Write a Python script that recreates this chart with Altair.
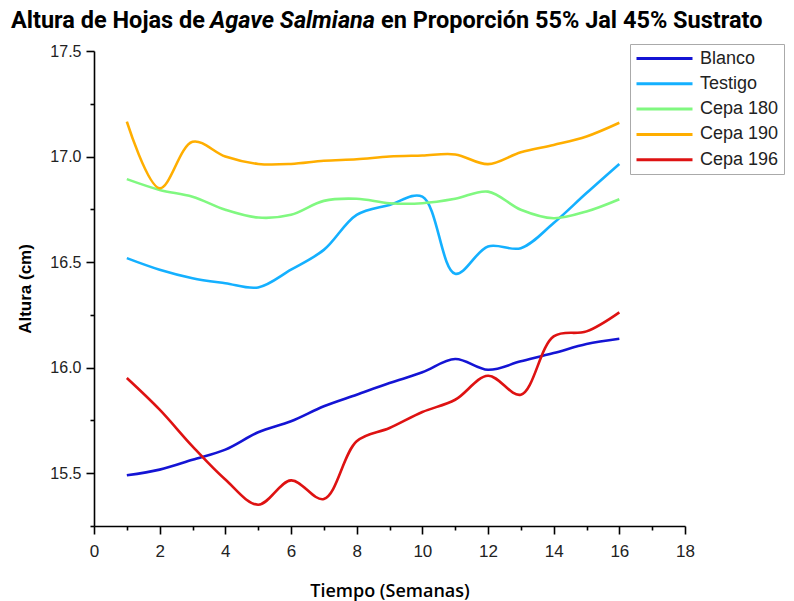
import altair as alt
import pandas as pd

weeks = list(range(1, 17))
series_names = ["Blanco", "Testigo", "Cepa 180", "Cepa 190", "Cepa 196"]
series_colors = ["#1414d4", "#14b0ff", "#80f880", "#ffae00", "#de1212"]

blanco = [15.49, 15.517, 15.564, 15.612, 15.694, 15.746, 15.817, 15.872,
          15.927, 15.978, 16.041, 15.99, 16.03, 16.069, 16.112, 16.137]
testigo = [16.519, 16.464, 16.424, 16.40, 16.38, 16.464, 16.558, 16.724,
           16.771, 16.81, 16.445, 16.574, 16.566, 16.685, 16.827, 16.965]
cepa180 = [16.893, 16.842, 16.81, 16.748, 16.711, 16.724, 16.79, 16.80,
           16.779, 16.779, 16.80, 16.834, 16.748, 16.708, 16.74, 16.798]
cepa190 = [17.165, 16.85, 17.07, 17.0, 16.965, 16.965, 16.98, 16.987,
           17.0, 17.005, 17.01, 16.964, 17.02, 17.055, 17.095, 17.16]
cepa196 = [15.951, 15.801, 15.627, 15.47, 15.351, 15.466, 15.378, 15.651,
           15.714, 15.79, 15.848, 15.962, 15.872, 16.148, 16.172, 16.262]

x_ticks = list(range(0, 19))
y_ticks = [15.25, 15.5, 15.75, 16.0, 16.25, 16.5, 16.75, 17.0, 17.25, 17.5]

title_parts = ["Altura de Hojas de", "Agave Salmiana", "en Proporción 55% Jal 45% Sustrato"]

rows = []
for name, vals in zip(series_names, [blanco, testigo, cepa180, cepa190, cepa196]):
    for w, v in zip(weeks, vals):
        rows.append({"Semana": w, "Altura": v, "Serie": name})
df = pd.DataFrame(rows)

W, H = 591, 475

lines = alt.Chart(df).mark_line(strokeWidth=2.6, interpolate="catmull-rom").encode(
    x=alt.X("Semana:Q",
            scale=alt.Scale(domain=[0, 18], nice=False),
            axis=alt.Axis(values=x_ticks, title="Tiempo (Semanas)",
                          labelExpr="datum.value % 2 == 0 ? datum.label : ''",
                          tickSize=alt.condition("datum.value % 2 == 0", alt.value(8), alt.value(4)),
                          grid=False, domainColor="black", tickColor="black",
                          domainWidth=1.6, tickWidth=1.6, labelFlush=False,
                          labelFont="Liberation Sans", labelFontSize=17, labelColor="#222",
                          labelPadding=9,
                          titleFont="Open Sans", titleFontSize=18, titleFontWeight=600,
                          titleColor="black", titlePadding=23)),
    y=alt.Y("Altura:Q",
            scale=alt.Scale(domain=[15.25, 17.5], nice=False, zero=False),
            axis=alt.Axis(values=y_ticks, title="Altura (cm)",
                          labelExpr="round(datum.value*4) % 2 == 0 ? format(datum.value, '.1f') : ''",
                          tickSize=alt.condition("round(datum.value*4) % 2 == 0", alt.value(8), alt.value(4)),
                          grid=False, domainColor="black", tickColor="black",
                          domainWidth=1.6, tickWidth=1.6, labelFlush=False,
                          labelFont="Liberation Sans", labelFontSize=16, labelColor="#222",
                          labelPadding=5,
                          titleFont="Liberation Sans", titleFontSize=17, titleFontWeight="bold",
                          titleColor="black", titlePadding=15)),
    color=alt.Color("Serie:N",
                    scale=alt.Scale(domain=series_names, range=series_colors),
                    sort=series_names,
                    legend=alt.Legend(orient="none", legendX=536, legendY=-7, title=None,
                                      symbolType="M-1,0H6", symbolSize=256, symbolStrokeWidth=3,
                                      labelFont="Liberation Sans", labelFontSize=18,
                                      labelColor="#222", labelOffset=46, rowPadding=6.3,
                                      padding=5, strokeColor="#aaaaaa", fillColor="white",
                                      labelLimit=200)),
)

tdf = pd.DataFrame({"t": [0]})
TFS = 23.5
t1 = alt.Chart(tdf).mark_text(text=title_parts[0], font="Roboto", fontSize=TFS, fontWeight="bold",
                              align="left", baseline="middle", color="black").encode(
    x=alt.value(-83), y=alt.value(-30))
t2 = alt.Chart(tdf).mark_text(text=title_parts[1], font="Roboto", fontSize=TFS, fontWeight="bold",
                              fontStyle="italic", align="left", baseline="middle", color="black").encode(
    x=alt.value(116), y=alt.value(-30))
t3 = alt.Chart(tdf).mark_text(text=title_parts[2], font="Roboto", fontSize=TFS, fontWeight="bold",
                              align="left", baseline="middle", color="black").encode(
    x=alt.value(287), y=alt.value(-30))

chart = alt.layer(lines, t1, t2, t3).properties(
    width=W, height=H,
    autosize=alt.AutoSizeParams(type="none"),
    padding={"left": 86, "top": 43, "right": 100, "bottom": 75},
).configure_view(stroke=None)

chart.save("out.html", embed_options={"renderer": "svg", "actions": False})
